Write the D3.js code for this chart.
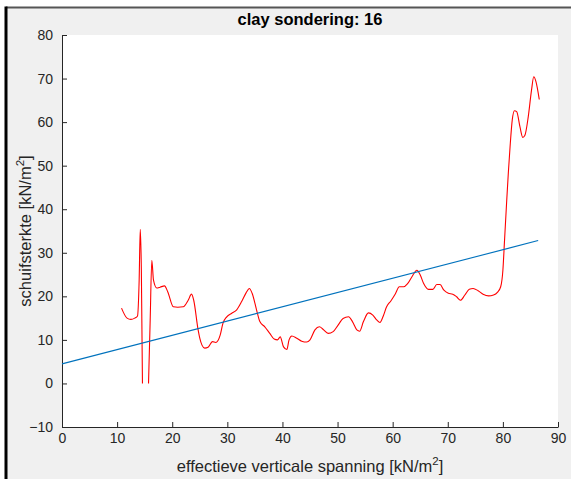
<!DOCTYPE html>
<html>
<head>
<meta charset="utf-8">
<script src="https://cdn.jsdelivr.net/npm/d3@7"></script>
<style>
  html, body { margin: 0; padding: 0; background: #ffffff; }
  svg { display: block; }
  text { font-family: "Liberation Sans", Arial, Helvetica, sans-serif; }
</style>
</head>
<body>
<svg id="chart" width="571" height="479"></svg>
<script>
// ---- data ----
const titleText = "clay sondering: 16";
const xTicks = [0, 10, 20, 30, 40, 50, 60, 70, 80, 90];
const yTicks = [-10, 0, 10, 20, 30, 40, 50, 60, 70, 80];

// measured shear strength (red); null marks a gap in the record
const stressX = [10.8, 11.8, 12.5, 13.2, 13.7, 14.0, 14.2, 14.4, 14.6, 15.1, 15.7, 16.0, 16.3, 16.6, 17.2, 17.8, 18.6, 19.2, 20.2, 21.0, 22.0, 22.9, 23.5, 23.9, 24.7, 25.0, 25.4, 25.9, 26.5, 27.3, 27.9, 28.7, 29.2, 29.9, 30.8, 31.7, 32.6, 33.4, 34.0, 34.5, 35.3, 35.9, 36.8, 37.7, 38.5, 39.1, 39.6, 40.2, 40.8, 41.2, 41.7, 42.6, 43.5, 44.4, 45.0, 45.9, 46.7, 47.4, 48.3, 49.2, 50.1, 51.0, 52.0, 52.7, 53.5, 54.0, 54.7, 55.6, 56.4, 57.1, 57.7, 58.3, 58.9, 59.7, 60.5, 61.2, 62.0, 62.7, 63.5, 64.4, 65.0, 65.6, 66.5, 67.3, 68.0, 68.6, 69.3, 70.1, 70.9, 71.6, 72.3, 73.1, 73.9, 74.6, 75.5, 76.4, 77.4, 78.3, 79.0, 79.6, 80.0, 80.3, 80.7, 81.0, 81.3, 81.7, 82.1, 82.5, 83.1, 83.6, 84.0, 84.6, 85.2, 85.6, 86.0, 86.6];
const strength = [17.3, 15.0, 14.7, 15.0, 15.5, 23.7, 35.4, 26.0, 0.0, null, 0.0, 14.5, 28.3, 23.7, 21.9, 22.1, 22.4, 21.0, 17.6, 17.5, 17.6, 19.1, 20.5, 19.1, 12.3, 10.4, 8.8, 8.1, 8.3, 9.6, 9.4, 11.1, 13.8, 15.3, 16.1, 16.9, 18.8, 20.8, 21.8, 20.7, 16.9, 14.2, 13.0, 11.5, 10.2, 10.0, 10.7, 8.4, 7.8, 10.0, 10.9, 10.4, 9.7, 9.5, 10.0, 12.3, 13.0, 12.4, 11.5, 11.9, 13.4, 14.9, 15.3, 14.2, 12.3, 12.0, 14.2, 16.2, 15.7, 14.6, 14.0, 15.5, 17.6, 19.0, 20.6, 22.2, 22.2, 22.9, 24.5, 26.0, 24.9, 23.0, 21.6, 21.6, 22.7, 22.7, 21.4, 20.7, 20.5, 19.9, 19.1, 20.3, 21.6, 21.8, 21.3, 20.5, 20.1, 20.3, 20.9, 22.2, 26.0, 32.9, 42.1, 48.6, 54.3, 60.5, 62.6, 62.4, 58.9, 56.5, 57.0, 61.2, 67.4, 70.4, 69.3, 65.2];

// linear fit (blue)
const fitX = [0, 86.4];
const fitY = [4.5, 32.8];

// ---- layout ----
const svg = d3.select("#chart");
const pLeft = 62, pRight = 558, pTop = 35, pBottom = 427;
const axisColor = "#262626";

// figure background
svg.append("rect").attr("x", 0).attr("y", 0).attr("width", 571).attr("height", 479).attr("fill", "#ffffff");
svg.append("rect").attr("x", 6).attr("y", 7).attr("width", 565).attr("height", 472).attr("fill", "#f0f0f0");
svg.append("line").attr("x1", 6).attr("x2", 571).attr("y1", 7.5).attr("y2", 7.5).attr("stroke", "#555").attr("stroke-width", 2);
svg.append("line").attr("x1", 6).attr("x2", 6).attr("y1", 6.5).attr("y2", 479).attr("stroke", "#000").attr("stroke-width", 3);

const x = d3.scaleLinear().domain([0, 90]).range([pLeft, pRight]);
const y = d3.scaleLinear().domain([-10, 80]).range([pBottom, pTop]);

// plot area
svg.append("rect").attr("x", pLeft).attr("y", pTop).attr("width", pRight - pLeft).attr("height", pBottom - pTop).attr("fill", "#ffffff");

// axes (MATLAB style: inward ticks)
const xAxis = svg.append("g").attr("transform", `translate(0,${pBottom})`)
  .call(d3.axisBottom(x).tickValues(xTicks).tickSizeInner(-5).tickSizeOuter(0).tickPadding(6).tickFormat(d3.format("d")));
const yAxis = svg.append("g").attr("transform", `translate(${pLeft},0)`)
  .call(d3.axisLeft(y).tickValues(yTicks).tickSizeInner(-5).tickSizeOuter(0).tickPadding(9).tickFormat(d3.format("d")));
[xAxis, yAxis].forEach(g => {
  g.select(".domain").attr("stroke", axisColor).attr("stroke-width", 1);
  g.selectAll(".tick line").attr("stroke", axisColor);
  g.selectAll(".tick text").attr("fill", axisColor).attr("font-size", 14)
    .attr("font-family", "'Liberation Sans', Arial, sans-serif");
});

// series
const strengthData = stressX.map((v, i) => ({ x: v, y: strength[i] }));
const line = d3.line().defined(d => d.y !== null).x(d => x(d.x)).y(d => y(d.y)).curve(d3.curveMonotoneX);
svg.append("path").datum(strengthData).attr("d", line)
  .attr("fill", "none").attr("stroke", "#ff0000").attr("stroke-width", 1.1);

const fitData = fitX.map((v, i) => ({ x: v, y: fitY[i] }));
svg.append("path").datum(fitData).attr("d", d3.line().x(d => x(d.x)).y(d => y(d.y)))
  .attr("fill", "none").attr("stroke", "#0072BD").attr("stroke-width", 1.1);

// title
svg.append("text").attr("x", (pLeft + pRight) / 2).attr("y", 25).attr("text-anchor", "middle")
  .attr("font-size", 16.5).attr("font-weight", "bold").attr("fill", "#000").text(titleText);

// x label
const xl = svg.append("text").attr("x", (pLeft + pRight) / 2).attr("y", 472).attr("text-anchor", "middle")
  .attr("font-size", 16.5).attr("fill", axisColor);
xl.append("tspan").text("effectieve verticale spanning [kN/m");
xl.append("tspan").attr("dy", -7).attr("font-size", 11.5).text("2");
xl.append("tspan").attr("dy", 7).text("]");

// y label
const yl = svg.append("text").attr("transform", `translate(31,${(pTop + pBottom) / 2}) rotate(-90)`)
  .attr("text-anchor", "middle").attr("font-size", 16.5).attr("fill", axisColor);
yl.append("tspan").text("schuifsterkte [kN/m");
yl.append("tspan").attr("dy", -7).attr("font-size", 11.5).text("2");
yl.append("tspan").attr("dy", 7).text("]");
</script>
</body>
</html>
